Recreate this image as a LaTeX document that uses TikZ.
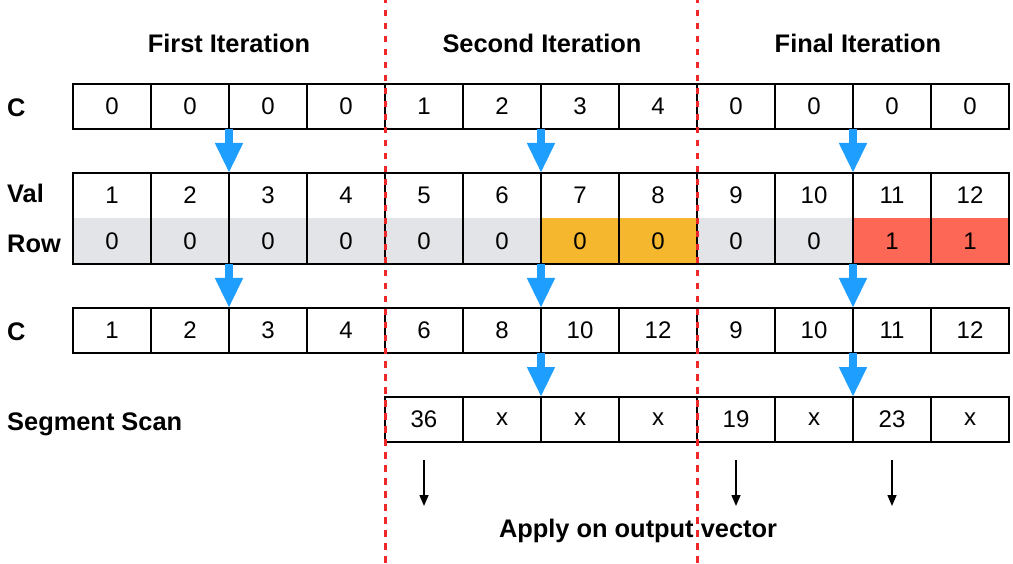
\documentclass[tikz,border=0pt]{standalone}
\usepackage{fontspec}
\setmainfont{Liberation Sans}
\usetikzlibrary{arrows.meta}
\definecolor{flowblue}{RGB}{30,158,255}
\definecolor{rowgrey}{RGB}{227,228,232}
\definecolor{hlorange}{RGB}{245,183,45}
\definecolor{hlred}{RGB}{253,103,86}
\definecolor{sepred}{RGB}{238,40,40}
\tikzset{
  cell/.style={minimum width=78pt,minimum height=45pt,inner sep=0pt,outer sep=0pt,
    font=\fontsize{24}{24}\selectfont},
  boxed/.style={cell,draw,line width=1.6pt},
  rowlabel/.style={anchor=base west,inner sep=0pt,font=\fontsize{25.4}{26}\selectfont\bfseries},
  title/.style={anchor=base,inner sep=0pt,font=\fontsize{25.4}{26}\selectfont\bfseries},
  flow/.style={draw=flowblue,line width=8pt,-{Triangle[width=26pt,length=30pt]},color=flowblue},
  apply/.style={line width=1.5pt,-{Triangle[width=9pt,length=11pt]}},
  separator/.style={draw=sepred,line width=3pt,dash pattern=on 6.5pt off 6.5pt,dash phase=3pt},
}
\begin{document}
\begin{tikzpicture}[x=1pt,y=-1pt]
\useasboundingbox (0,0) rectangle (1013,564);
\coordinate (top) at (0,0);
\coordinate (bottom) at (0,564);

% titles
\node[title] (t1) at (229,53) {First Iteration};
\node[title] (t2) at (542,53) {Second Iteration};
\node[title] (t3) at (858,53) {Final Iteration};

% row labels
\node[rowlabel] (lc1) at (7,117) {C};
\node[rowlabel] (lval) at (7,203) {Val};
\node[rowlabel] (lrow) at (7,253) {Row};
\node[rowlabel] (lc2) at (7,341) {C};
\node[rowlabel] (lseg) at (7,430) {Segment Scan};

% first C row
\foreach \v [count=\k] in {0,0,0,0,1,2,3,4,0,0,0,0}
  \node[boxed] (c1-\k) at (34+78*\k,106.5) {\v};

% Val / Row block
\foreach \v [count=\k] in {1,2,3,4,5,6,7,8,9,10,11,12}
  \node[cell,fill=white] (v-\k) at (34+78*\k,195.5) {\v};
\foreach \v/\c [count=\k] in {0/rowgrey,0/rowgrey,0/rowgrey,0/rowgrey,0/rowgrey,0/rowgrey,
    0/hlorange,0/hlorange,0/rowgrey,0/rowgrey,1/hlred,1/hlred}
  \node[cell,fill=\c,minimum height=46pt] (r-\k) at (34+78*\k,241) {\v};
\draw[line width=1.6pt] (v-1.north west) rectangle (r-12.south east);
\foreach \k in {1,...,11}
  \draw[line width=1.6pt] (v-\k.north east) -- (r-\k.south east);

% second C row
\foreach \v [count=\k] in {1,2,3,4,6,8,10,12,9,10,11,12}
  \node[boxed] (c2-\k) at (34+78*\k,330.5) {\v};

% segment scan row
\foreach \v [count=\j] in {36,x,x,x,19,x,23,x}{
  \pgfmathtruncatemacro{\k}{\j+4}
  \node[boxed] (s-\k) at (34+78*\k,419.5) {\v};
}

% flow arrows
\foreach \k in {2,6,10}{
  \draw[flow] (c1-\k.south east) -- (v-\k.north east);
  \draw[flow] (r-\k.south east) -- (c2-\k.north east);
}
\foreach \k in {6,10}
  \draw[flow] (c2-\k.south east) -- (s-\k.north east);

% results written to the output vector
\foreach \k in {5,9,11}
  \draw[apply] ([yshift=-18pt]s-\k.south) -- ([yshift=-64pt]s-\k.south);
\node[title] (apply) at (638,537) {Apply on output vector};

% iteration separators
\draw[separator] (c1-4.north east |- top) -- (c1-4.north east |- bottom);
\draw[separator] (c1-8.north east |- top) -- (c1-8.north east |- bottom);
\end{tikzpicture}
\end{document}
